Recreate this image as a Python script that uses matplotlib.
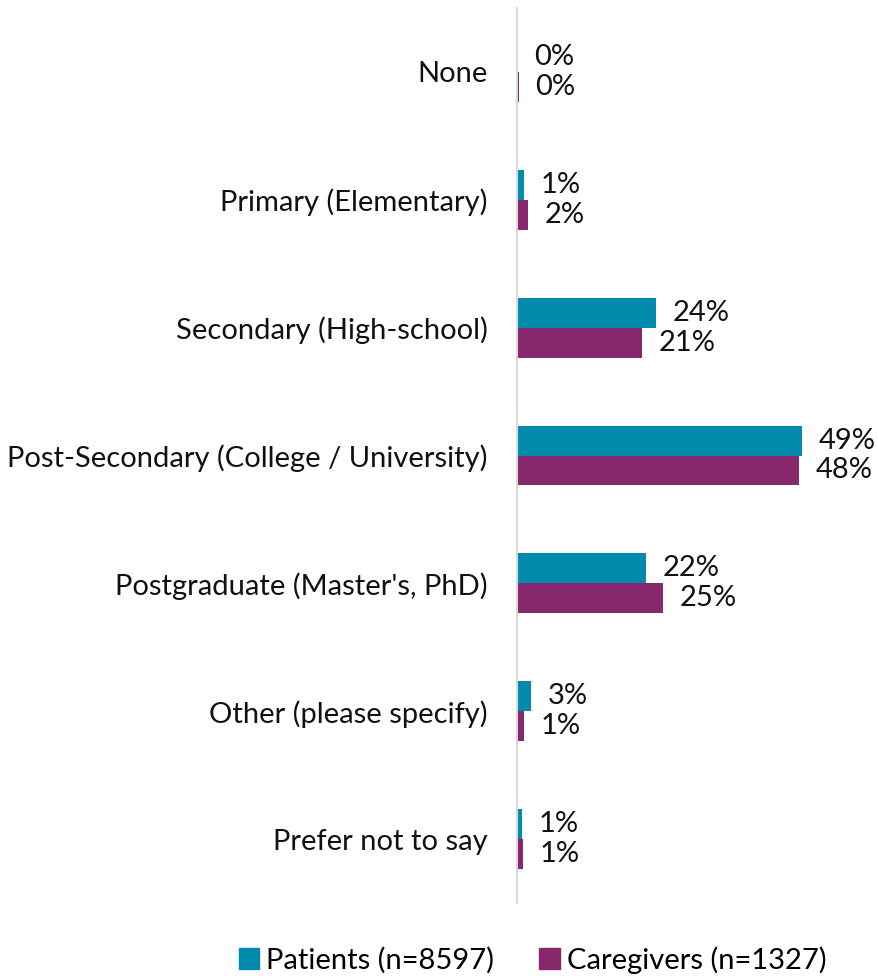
import matplotlib
matplotlib.use("Agg")
import matplotlib.pyplot as plt
from matplotlib.patches import Patch
import numpy as np

# Education level, share of respondents (%)
categories = [
    "None",
    "Primary (Elementary)",
    "Secondary (High-school)",
    "Post-Secondary (College / University)",
    "Postgraduate (Master's, PhD)",
    "Other (please specify)",
    "Prefer not to say",
]
patients = [0.1, 1.2, 23.8, 48.8, 22.1, 2.4, 0.9]
caregivers = [0.3, 1.9, 21.3, 48.3, 24.9, 1.2, 1.0]
patients_labels = ["0%", "1%", "24%", "49%", "22%", "3%", "1%"]
caregivers_labels = ["0%", "2%", "21%", "48%", "25%", "1%", "1%"]
series_names = ["Patients (n=8597)", "Caregivers (n=1327)"]

TEAL = "#008AAB"
PURPLE = "#86286B"
FS = 21

plt.rcParams["font.family"] = ["Lato", "DejaVu Sans"]

fig = plt.figure(figsize=(8.79, 9.76), dpi=100)
ax = fig.add_axes([517 / 879, 1 - 903 / 976, 1 - 517 / 879, 895 / 976])

y = np.arange(len(categories))
h = 0.234
ax.barh(y - h / 2, patients, height=h, color=TEAL)
ax.barh(y + h / 2, caregivers, height=h, color=PURPLE)

for yi, v, lab in zip(y, patients, patients_labels):
    ax.annotate(lab, (v, yi - h / 2), xytext=(12, 0), textcoords="offset points",
                va="center", ha="left", fontsize=FS, color="#111111")
for yi, v, lab in zip(y, caregivers, caregivers_labels):
    ax.annotate(lab, (v, yi + h / 2), xytext=(12, 0), textcoords="offset points",
                va="center", ha="left", fontsize=FS, color="#111111")

ax.set_xlim(0, 61.9)
ax.set_ylim(6.5, -0.5)
ax.set_yticks(y)
ax.set_yticklabels(categories, fontsize=FS, color="#111111")
ax.tick_params(axis="y", length=0, pad=21)
ax.set_xticks([])
for s in ["top", "right", "bottom"]:
    ax.spines[s].set_visible(False)
ax.spines["left"].set_color("#D9D9D9")
ax.spines["left"].set_linewidth(1.5)

handles = [Patch(color=TEAL), Patch(color=PURPLE)]
fig.legend(handles, series_names, loc="center", bbox_to_anchor=(0.606, 0.0164),
           ncol=2, frameon=False, fontsize=FS, handlelength=0.7, handleheight=0.7,
           handletextpad=0.25, columnspacing=1.55)

fig.savefig("out.png", dpi=100)
